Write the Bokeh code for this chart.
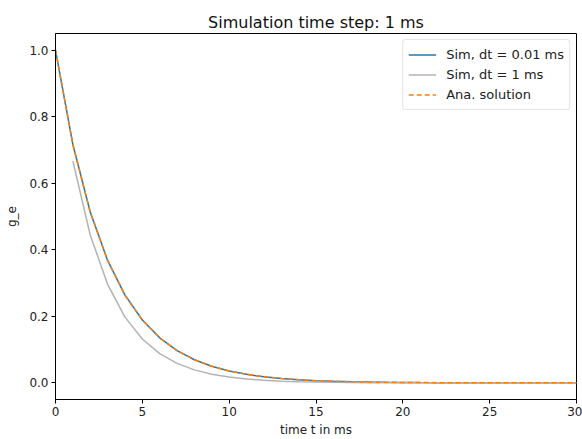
from bokeh.plotting import figure
from bokeh.models import FixedTicker, PrintfTickFormatter, Range1d, Legend, LegendItem
from bokeh.embed import file_html
from bokeh.resources import INLINE

# time axis (ms)
t_ms = [0, 1, 2, 3, 4, 5, 6, 7, 8, 9, 10, 11, 12, 13, 14, 15, 16, 17, 18, 19, 20,
        21, 22, 23, 24, 25, 26, 27, 28, 29, 30]
# fine simulation (dt = 0.01 ms), read at 1 ms points
g_fine = [1.0, 0.7165, 0.5134, 0.3679, 0.2636, 0.1889, 0.1353, 0.0970, 0.0695, 0.0498,
          0.0357, 0.0256, 0.0183, 0.0131, 0.0094, 0.0067, 0.0048, 0.0035, 0.0025, 0.0018,
          0.0013, 0.0009, 0.0007, 0.0005, 0.0003, 0.0002, 0.0002, 0.0001, 0.0001, 0.0001, 0.0]
# coarse simulation (dt = 1 ms), starts at t = 1
t_coarse = [1, 2, 3, 4, 5, 6, 7, 8, 9, 10, 11, 12, 13, 14, 15, 16, 17, 18, 19, 20,
            21, 22, 23, 24, 25, 26, 27, 28, 29, 30]
g_coarse = [0.6667, 0.4444, 0.2963, 0.1975, 0.1317, 0.0878, 0.0585, 0.0390, 0.0260, 0.0173,
            0.0116, 0.0077, 0.0051, 0.0034, 0.0023, 0.0015, 0.0010, 0.0007, 0.0005, 0.0003,
            0.0002, 0.0001, 0.0001, 0.0001, 0.0, 0.0, 0.0, 0.0, 0.0, 0.0]
# analytical solution
g_ana = [1.0, 0.7165, 0.5134, 0.3679, 0.2636, 0.1889, 0.1353, 0.0970, 0.0695, 0.0498,
         0.0357, 0.0256, 0.0183, 0.0131, 0.0094, 0.0067, 0.0048, 0.0035, 0.0025, 0.0018,
         0.0013, 0.0009, 0.0007, 0.0005, 0.0003, 0.0002, 0.0002, 0.0001, 0.0001, 0.0001, 0.0]

x_ticks = [0, 5, 10, 15, 20, 25, 30]
y_ticks = [0.0, 0.2, 0.4, 0.6, 0.8, 1.0]

FONT = "DejaVu Sans"

p = figure(width=582, height=439, output_backend="svg", toolbar_location=None,
           x_range=Range1d(0, 30), y_range=Range1d(-0.05, 1.05),
           title="Simulation time step: 1 ms",
           min_border_left=55, min_border_right=6, min_border_top=33, min_border_bottom=40)

p.title.align = "center"
p.title.text_font = FONT
p.title.text_font_size = "16px"
p.title.text_font_style = "normal"
p.title.text_color = "#111111"
p.title.standoff = 4

p.grid.visible = False
p.outline_line_color = "black"
p.outline_line_width = 1
p.background_fill_color = "white"
p.border_fill_color = "white"

for ax in (p.xaxis, p.yaxis):
    ax.axis_line_color = "black"
    ax.major_tick_line_color = "black"
    ax.major_tick_out = 4
    ax.major_tick_in = 0
    ax.minor_tick_line_color = None
    ax.major_label_text_font = FONT
    ax.major_label_text_font_size = "12px"
    ax.major_label_text_color = "#222222"
    ax.axis_label_text_font = FONT
    ax.axis_label_text_font_size = "12px"
    ax.axis_label_text_font_style = "normal"
    ax.axis_label_text_color = "#222222"

p.xaxis.ticker = FixedTicker(ticks=x_ticks)
p.yaxis.ticker = FixedTicker(ticks=y_ticks)
p.yaxis.formatter = PrintfTickFormatter(format="%.1f")
p.xaxis.axis_label = "time t in ms"
p.yaxis.axis_label = "g_e"
p.xaxis.axis_label_standoff = 4
p.yaxis.axis_label_standoff = 7
p.xaxis.major_label_standoff = 3
p.yaxis.major_label_standoff = 3

r1 = p.line(t_ms, g_fine, line_color="#1f77b4", line_width=1.5)
r2 = p.line(t_coarse, g_coarse, line_color="#b3b3b3", line_width=1.5)
r3 = p.line(t_ms, g_ana, line_color="#ff7f0e", line_width=1.5, line_dash="5 3")

legend = Legend(items=[
    LegendItem(label="Sim, dt = 0.01 ms", renderers=[r1]),
    LegendItem(label="Sim, dt = 1 ms", renderers=[r2]),
    LegendItem(label="Ana. solution", renderers=[r3]),
], location="top_right")
legend.label_text_font = FONT
legend.label_text_font_size = "13px"
legend.label_text_color = "#222222"
legend.border_line_color = "#cccccc"
legend.border_line_width = 1
legend.border_radius = 3
legend.background_fill_alpha = 0.8
legend.glyph_width = 28
legend.glyph_height = 19
legend.label_height = 19
legend.spacing = 1
legend.padding = 5
legend.margin = 6
legend.label_standoff = 10
p.add_layout(legend)

open("out.html", "w").write(file_html(p, INLINE))
